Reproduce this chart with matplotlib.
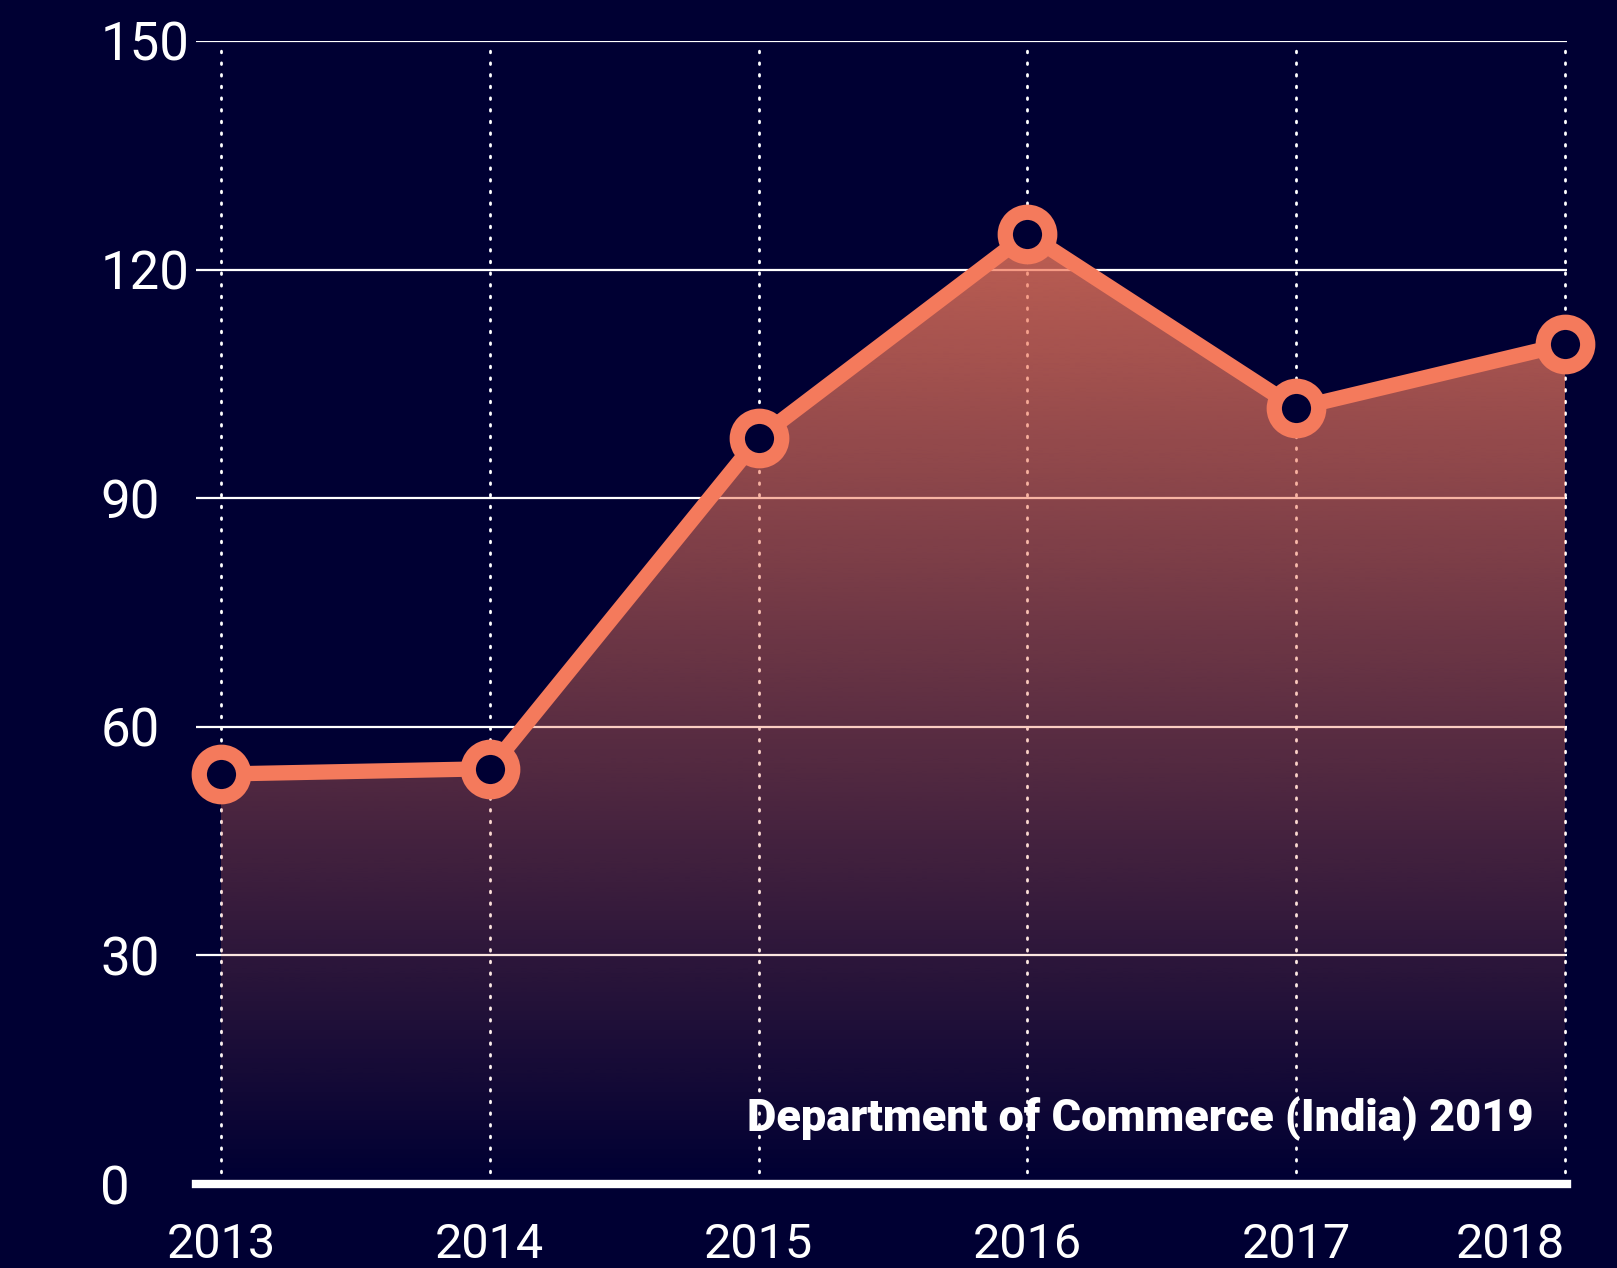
import numpy as np
import matplotlib
matplotlib.use("Agg")
from matplotlib import pyplot as plt
from matplotlib.colors import to_rgb

# data
years = [2013, 2014, 2015, 2016, 2017, 2018]
values = [53.8, 54.5, 97.9, 124.7, 101.8, 110.2]
y_ticks = [0, 30, 60, 90, 120, 150]
source = "Department of Commerce (India) 2019"

bg = "#000033"
orange = "#f47a5c"

plt.rcParams["font.family"] = ["Roboto", "DejaVu Sans"]

fig = plt.figure(figsize=(16.17, 12.68), dpi=100, facecolor=bg)
ax = fig.add_axes([0.1212, 0.0662, 0.969 - 0.1212, 0.9677 - 0.0662])
ax.set_facecolor(bg)
for s in ax.spines.values():
    s.set_visible(False)

# horizontal grid + vertical dotted lines, under the fill
for v in y_ticks[1:]:
    ax.axhline(v, color="white", lw=1.6, zorder=1)
for yr in years:
    ax.plot([yr, yr], [0, 150], color="white", lw=2.0,
            linestyle=(0, (0.6, 3.6)), dash_capstyle="round", zorder=1)

# gradient fill under the line
ymax = max(values)
grad = np.zeros((256, 1, 4))
grad[:, 0, :3] = to_rgb(orange)
grad[:, 0, 3] = np.linspace(0, 0.78, 256)
poly = ax.fill_between(years, values, 0, facecolor="none", edgecolor="none")
img = ax.imshow(grad, extent=[years[0] - 0.02, years[-1], 0, ymax],
                origin="lower", aspect="auto", zorder=2,
                interpolation="bilinear")
img.set_clip_path(poly.get_paths()[0], transform=ax.transData)
ax.set_xlim(2012.907, 2018.007)
ax.set_ylim(0, 150)

ax.plot(years, values, color=orange, lw=11, zorder=3, solid_joinstyle="round",
        clip_on=False)
ax.plot(years, values, linestyle="none", marker="o", ms=32, mew=11,
        mec=orange, mfc=bg, zorder=4, clip_on=False)

# baseline
ax.axhline(0, color="white", lw=6, zorder=5, clip_on=False)

ax.set_yticks(y_ticks)
ax.set_yticklabels([str(v) for v in y_ticks], ha="left")
ax.tick_params(axis="y", length=0, pad=69, labelsize=38, labelcolor="white")
ax.set_xticks(years)
ax.set_xticklabels([str(y) for y in years])
ax.tick_params(axis="x", length=0, pad=27, labelsize=35, labelcolor="white")
ax.get_xticklabels()[-1].set_ha("right")

ax.text(0.976, 0.046, source, transform=ax.transAxes, ha="right",
        va="baseline", color="white", fontsize=32.5, fontweight="black",
        zorder=6)

fig.savefig("out.png", dpi=100, facecolor=bg)
